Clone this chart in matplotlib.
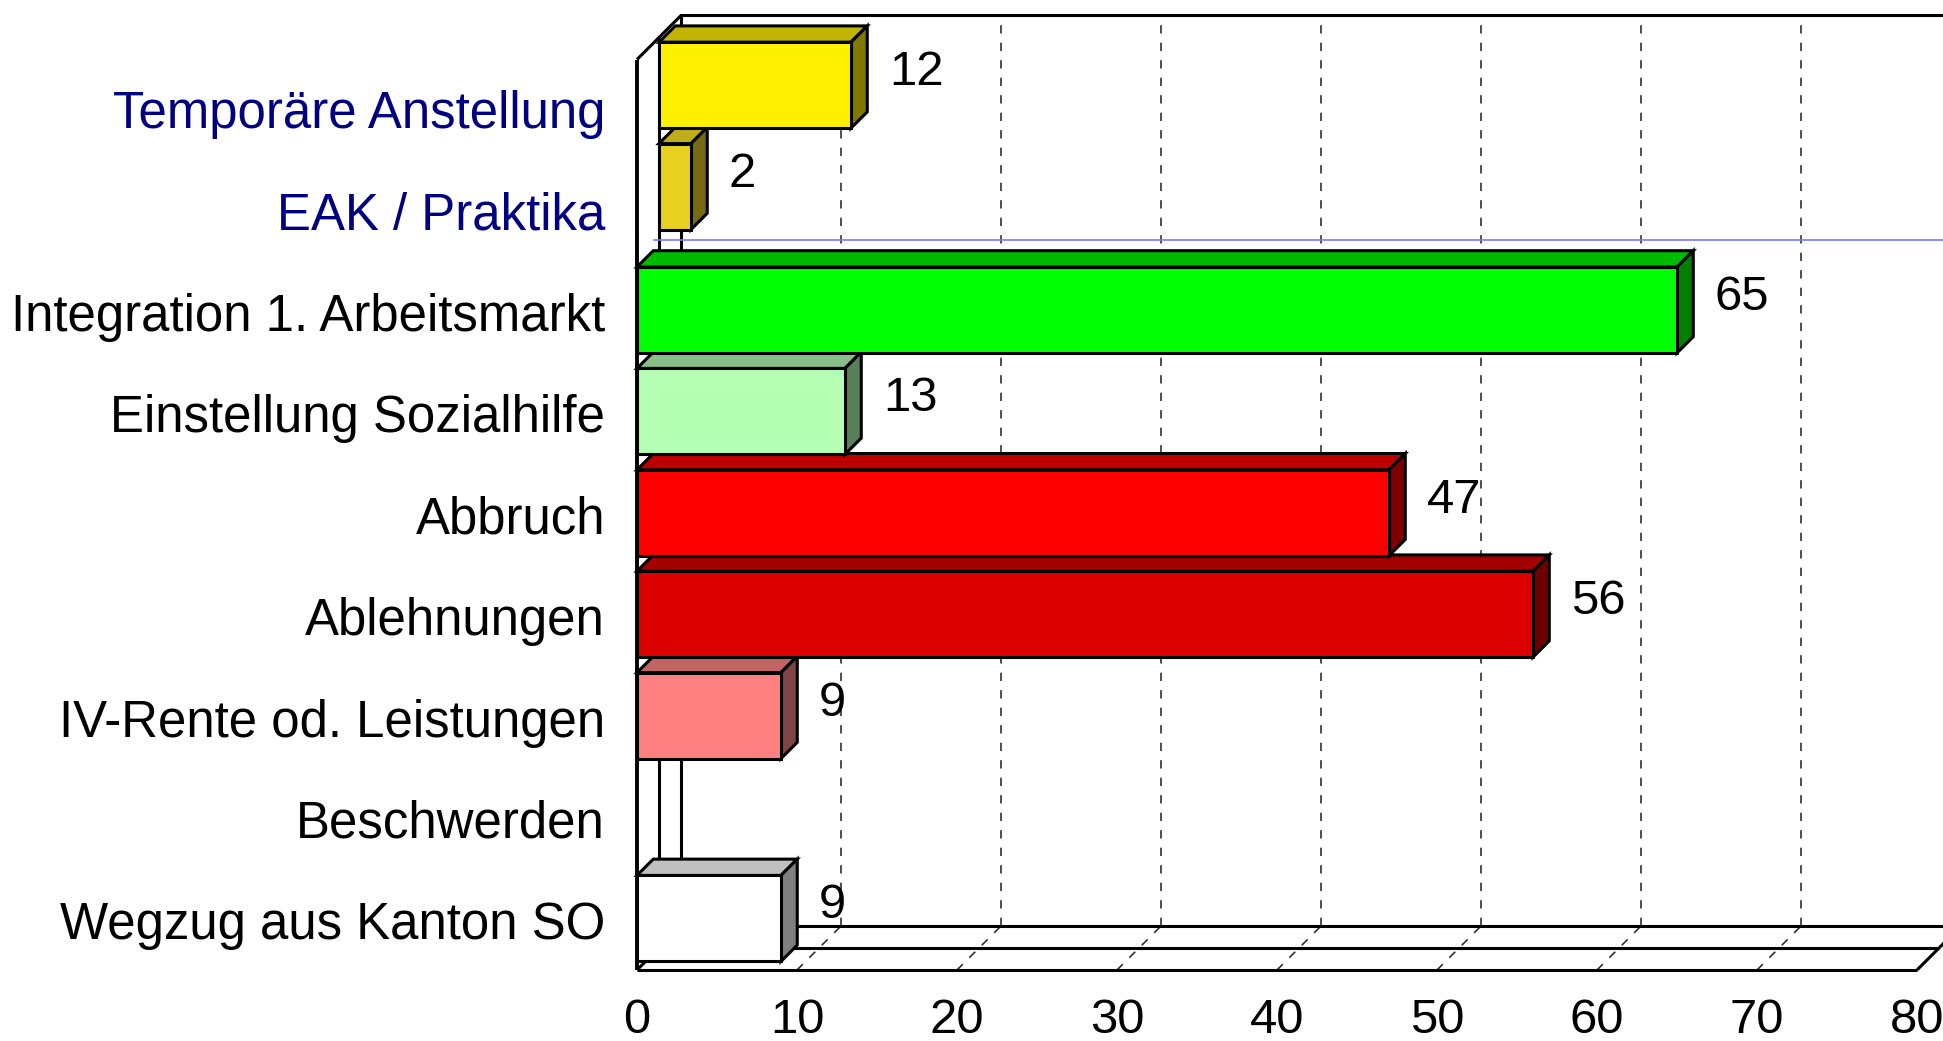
import matplotlib.pyplot as plt
from matplotlib.patches import Polygon

# =========================
# Data
# =========================
categories = [
    "Temporäre Anstellung",
    "EAK / Praktika",
    "Integration 1. Arbeitsmarkt",
    "Einstellung Sozialhilfe",
    "Abbruch",
    "Ablehnungen",
    "IV-Rente od. Leistungen",
    "Beschwerden",
    "Wegzug aus Kanton SO",
]
values = [12, 2, 65, 13, 47, 56, 9, 0, 9]
# these two sit in the rear row of the 3D chart
back_row = ["Temporäre Anstellung", "EAK / Praktika"]
x_ticks = [0, 10, 20, 30, 40, 50, 60, 70, 80]

# front / top / side colour of each bar
front_colors = ["#FFF000", "#E8D020", "#00FF00", "#B4FFB4", "#FF0000",
                "#DC0000", "#FF8080", "#FFFFFF", "#FFFFFF"]
top_colors = ["#C0B400", "#C0AE18", "#00BC00", "#88C088", "#BC0000",
              "#A50000", "#C06464", "#C0C0C0", "#C0C0C0"]
side_colors = ["#807800", "#766A14", "#008000", "#5A805A", "#800000",
               "#6E0000", "#804444", "#808080", "#808080"]
label_colors = {"Temporäre Anstellung": "#000080", "EAK / Praktika": "#000080"}

# =========================
# 3D geometry (data units)
# =========================
DEPTH_X = 2.75      # full wall depth along value axis
DEPTH_Y = -0.434    # full wall depth along category axis
BAR_HALF = 0.424
BAR_DEPTH = 0.37
WALL_TOP = -0.47
FLOOR = 8.509
X_MAX = 80

plt.rcParams['font.family'] = ['Liberation Sans', 'DejaVu Sans']
FS = 35.3          # value labels / ticks
FS_CAT = 36.7      # category labels


def shift(x, y, d):
    return x + d * DEPTH_X, y + d * DEPTH_Y


def line(ax, pts, **kw):
    xs, ys = zip(*pts)
    ax.plot(xs, ys, solid_capstyle='butt', **kw)


def draw_bar(ax, row, value, d0, i):
    y0, y1 = row - BAR_HALF, row + BAR_HALF
    p = lambda x, y, d: shift(x, y, d0 + d)
    front = [p(0, y0, 0), p(value, y0, 0), p(value, y1, 0), p(0, y1, 0)]
    top = [p(0, y0, 0), p(value, y0, 0), p(value, y0, BAR_DEPTH), p(0, y0, BAR_DEPTH)]
    side = [p(value, y0, 0), p(value, y0, BAR_DEPTH), p(value, y1, BAR_DEPTH), p(value, y1, 0)]
    for poly, col in [(top, top_colors[i]), (side, side_colors[i]), (front, front_colors[i])]:
        ax.add_patch(Polygon(poly, closed=True, facecolor=col, edgecolor='black',
                             linewidth=2.2, joinstyle='miter', zorder=5))
    lx, ly = p(value + 2.375, row, 0)
    ax.text(lx, ly, str(value), fontsize=FS, ha='left', va='baseline', zorder=8)


fig = plt.figure(figsize=(19.43, 10.41), dpi=100)
ax = fig.add_axes([0, 0, 1, 1])
ax.set_xlim(-39.81, 81.625)
ax.set_ylim(9.209, -1.057)
ax.axis('off')

# back wall + floor gridlines
for v in x_ticks[1:]:
    line(ax, [shift(v, FLOOR, 1), shift(v, WALL_TOP, 1)], color='#303030',
         lw=1.2, dashes=(5, 5.5), zorder=1)
    line(ax, [shift(v, FLOOR, 0), shift(v, FLOOR, 1)], color='#303030',
         lw=1.2, dashes=(5, 5.5), zorder=1)

# walls and floor outline
for d in (0, 0.5, 1):
    line(ax, [shift(0, WALL_TOP, d), shift(0, FLOOR, d)], color='black',
         lw=2.8 if d == 0 else 2.2, zorder=2)
    line(ax, [shift(0, FLOOR, d), shift(X_MAX if d < 1 else 95, FLOOR, d)],
         color='black', lw=2.2, zorder=2)
line(ax, [shift(0, WALL_TOP, 0), shift(0, WALL_TOP, 1), shift(95, WALL_TOP, 1)],
     color='black', lw=2.2, zorder=2)
line(ax, [shift(0, FLOOR, 0), shift(0, FLOOR, 1)], color='black', lw=2.2, zorder=2)
line(ax, [shift(X_MAX, FLOOR, 0), shift(X_MAX, FLOOR, 1)], color='black', lw=2.2, zorder=2)

# thin blue separator line
ax.plot([1.06, 95], [1.31, 1.31], color='#7878FF', lw=1.2, zorder=3)

# bars: bottom rows first so the rows above overlap their top faces
for i in reversed(range(len(categories))):
    if values[i] == 0:
        continue
    d0 = 0.5 if categories[i] in back_row else 0
    draw_bar(ax, i, values[i], d0, i)

# category labels
for i, cat in enumerate(categories):
    ax.text(-2.0, i + 0.207, cat, fontsize=FS_CAT, ha='right', va='baseline',
            color=label_colors.get(cat, 'black'))

# value axis tick labels (bottom edge cuts them slightly, as in the original)
for v in x_ticks:
    ax.text(v, 8.785, str(v), fontsize=FS, ha='center', va='top')

fig.savefig('out.png', dpi=100, facecolor='white')
